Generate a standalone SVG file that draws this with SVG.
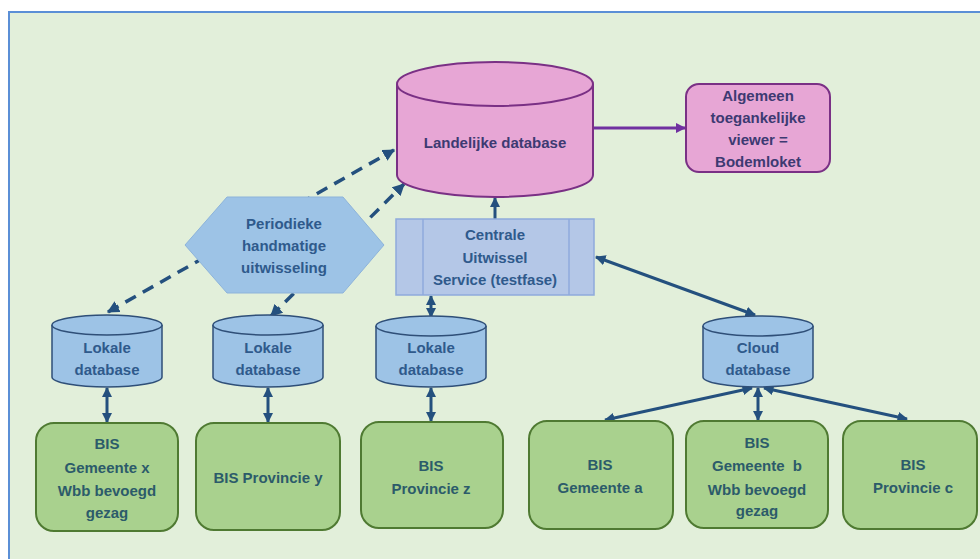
<svg xmlns="http://www.w3.org/2000/svg" width="980" height="559" viewBox="0 0 980 559">
<style>
text{font-family:"Liberation Sans",Arial,sans-serif;font-weight:bold;font-size:15px;text-anchor:middle;dominant-baseline:central}
.pk{fill:#E7A6D5;stroke:#7A3085;stroke-width:2}
.bl{fill:#9DC3E6;stroke:#2F4F78;stroke-width:1.5}
.gr{fill:#A9D18E;stroke:#4F7A32;stroke-width:2}
.tp{fill:#3D3A72}
.tb{fill:#2F5A8C}
.tg{fill:#2C5B6A}
.con{stroke:#24507E;stroke-width:3;fill:none}
.dash{stroke-dasharray:12 8;stroke-width:3.5}
</style>
<defs>
<marker id="ab" viewBox="0 0 10 10" refX="9" refY="5" markerWidth="3.5" markerHeight="3.5" orient="auto-start-reverse" markerUnits="strokeWidth"><path d="M0,0 L10,5 L0,10 z" fill="#24507E"/></marker>
<marker id="ap" viewBox="0 0 10 10" refX="9" refY="5" markerWidth="3.5" markerHeight="3.5" orient="auto-start-reverse" markerUnits="strokeWidth"><path d="M0,0 L10,5 L0,10 z" fill="#7030A0"/></marker>
</defs>
<rect x="0" y="0" width="980" height="559" fill="#ffffff"/>
<rect x="9" y="12" width="975" height="552" fill="#E2EFDA" stroke="#5B8FD6" stroke-width="2"/>

<g id="connectors">
<line class="con dash" x1="108" y1="312" x2="394" y2="150" marker-start="url(#ab)" marker-end="url(#ab)"/>
<line class="con dash" x1="271" y1="316" x2="404" y2="184" marker-start="url(#ab)" marker-end="url(#ab)"/>
<line x1="593" y1="128" x2="685" y2="128" stroke="#7030A0" stroke-width="3" marker-end="url(#ap)"/>
<line class="con" x1="495" y1="219" x2="495" y2="198" marker-end="url(#ab)"/>
<line class="con" x1="431" y1="296" x2="431" y2="317" marker-start="url(#ab)" marker-end="url(#ab)"/>
<line class="con" x1="596" y1="257" x2="755" y2="315" marker-start="url(#ab)" marker-end="url(#ab)"/>
<line class="con" x1="107" y1="388" x2="107" y2="422" marker-start="url(#ab)" marker-end="url(#ab)"/>
<line class="con" x1="268" y1="388" x2="268" y2="422" marker-start="url(#ab)" marker-end="url(#ab)"/>
<line class="con" x1="431" y1="388" x2="431" y2="421" marker-start="url(#ab)" marker-end="url(#ab)"/>
<line class="con" x1="752" y1="388" x2="605" y2="420" marker-start="url(#ab)" marker-end="url(#ab)"/>
<line class="con" x1="758" y1="388" x2="758" y2="420" marker-start="url(#ab)" marker-end="url(#ab)"/>
<line class="con" x1="764" y1="388" x2="907" y2="419" marker-start="url(#ab)" marker-end="url(#ab)"/>
</g>

<g id="landelijke">
<path class="pk" d="M397,84 V175 A98,22 0 0 0 593,175 V84"/>
<ellipse class="pk" cx="495" cy="84" rx="98" ry="22"/>
<text class="tp" x="495" y="142">Landelijke database</text>
</g>

<g id="viewer">
<rect class="pk" x="686" y="84" width="144" height="88" rx="13"/>
<text class="tp" x="758" y="95">Algemeen</text>
<text class="tp" x="758" y="117">toegankelijke</text>
<text class="tp" x="758" y="139">viewer =</text>
<text class="tp" x="758" y="161">Bodemloket</text>
</g>

<g id="periodiek">
<polygon points="185,245 227,197 343,197 384,245 343,293 227,293" fill="#9DC3E6" stroke="#8DB3DA" stroke-width="1"/>
<text class="tb" x="284" y="223">Periodieke</text>
<text class="tb" x="284" y="245">handmatige</text>
<text class="tb" x="284" y="267">uitwisseling</text>
</g>

<g id="centrale">
<rect x="396" y="219" width="198" height="76" fill="#B4C7E7" stroke="#8FAADC" stroke-width="1.5"/>
<line x1="423" y1="219" x2="423" y2="295" stroke="#8FAADC" stroke-width="1.5"/>
<line x1="569" y1="219" x2="569" y2="295" stroke="#8FAADC" stroke-width="1.5"/>
<text class="tb" x="495" y="234">Centrale</text>
<text class="tb" x="495" y="257">Uitwissel</text>
<text class="tb" x="495" y="279">Service (testfase)</text>
</g>

<g id="lokale1">
<path class="bl" d="M52,325 V377 A55,10 0 0 0 162,377 V325"/>
<ellipse class="bl" cx="107" cy="325" rx="55" ry="10"/>
<text class="tb" x="107" y="347">Lokale</text>
<text class="tb" x="107" y="369">database</text>
</g>
<g id="lokale2">
<path class="bl" d="M213,325 V377 A55,10 0 0 0 323,377 V325"/>
<ellipse class="bl" cx="268" cy="325" rx="55" ry="10"/>
<text class="tb" x="268" y="347">Lokale</text>
<text class="tb" x="268" y="369">database</text>
</g>
<g id="lokale3">
<path class="bl" d="M376,326 V377 A55,10 0 0 0 486,377 V326"/>
<ellipse class="bl" cx="431" cy="326" rx="55" ry="10"/>
<text class="tb" x="431" y="347">Lokale</text>
<text class="tb" x="431" y="369">database</text>
</g>
<g id="cloud">
<path class="bl" d="M703,326 V377 A55,10 0 0 0 813,377 V326"/>
<ellipse class="bl" cx="758" cy="326" rx="55" ry="10"/>
<text class="tb" x="758" y="347">Cloud</text>
<text class="tb" x="758" y="369">database</text>
</g>

<g id="bis-x">
<rect class="gr" x="36" y="423" width="142" height="108" rx="18"/>
<text class="tg" x="107" y="443">BIS</text>
<text class="tg" x="107" y="467">Gemeente x</text>
<text class="tg" x="107" y="490">Wbb bevoegd</text>
<text class="tg" x="107" y="512">gezag</text>
</g>
<g id="bis-y">
<rect class="gr" x="196" y="423" width="144" height="107" rx="18"/>
<text class="tg" x="268" y="477">BIS Provincie y</text>
</g>
<g id="bis-z">
<rect class="gr" x="361" y="422" width="142" height="106" rx="18"/>
<text class="tg" x="431" y="465">BIS</text>
<text class="tg" x="431" y="488">Provincie z</text>
</g>
<g id="bis-a">
<rect class="gr" x="529" y="421" width="144" height="108" rx="18"/>
<text class="tg" x="600" y="464">BIS</text>
<text class="tg" x="600" y="487">Gemeente a</text>
</g>
<g id="bis-b">
<rect class="gr" x="686" y="421" width="142" height="107" rx="18"/>
<text class="tg" x="757" y="442">BIS</text>
<text class="tg" x="757" y="465" xml:space="preserve">Gemeente  b</text>
<text class="tg" x="757" y="489">Wbb bevoegd</text>
<text class="tg" x="757" y="510">gezag</text>
</g>
<g id="bis-c">
<rect class="gr" x="843" y="421" width="134" height="108" rx="18"/>
<text class="tg" x="913" y="464">BIS</text>
<text class="tg" x="913" y="487">Provincie c</text>
</g>
</svg>
